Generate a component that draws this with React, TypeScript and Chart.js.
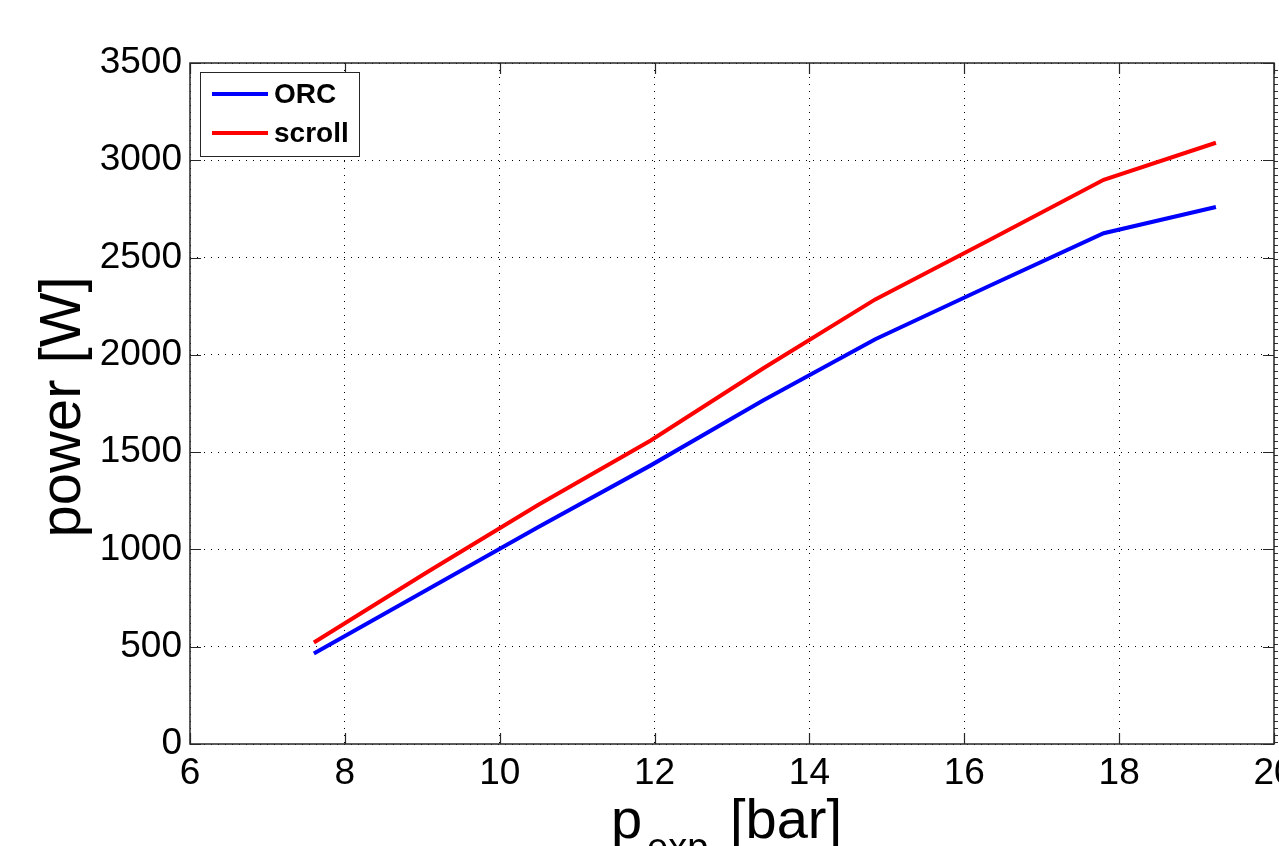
import React, { useEffect, useRef } from "react";
import { Chart, registerables } from "chart.js";

Chart.register(...registerables);

// ---- data ----
const pressure = [7.6, 9.05, 10.5, 11.95, 13.4, 14.85, 16.3, 17.8, 19.25];
const orcPower = [465, 790, 1115, 1432, 1765, 2080, 2350, 2625, 2760];
const scrollPower = [522, 880, 1230, 1560, 1930, 2285, 2585, 2900, 3090];
const xTickValues = [6, 8, 10, 12, 14, 16, 18, 20];
const yTickValues = [0, 500, 1000, 1500, 2000, 2500, 3000, 3500];
const seriesLabels = ["ORC", "scroll"];
const seriesColors = ["#0000ff", "#ff0000"];
const xTitleMain = "p";
const xTitleSub = "exp";
const xTitleUnit = "[bar]";
const yTitle = "power [W]";

const FONT = "'Liberation Sans', Arial, Helvetica, sans-serif";

const matlabPlugin = {
  id: "matlabDecor",
  afterDatasetsDraw(chart: any) {
    const { ctx, chartArea } = chart;
    const { left, right, top, bottom } = chartArea;
    const xs = chart.scales.x;
    const ys = chart.scales.y;
    ctx.save();
    // frame
    ctx.strokeStyle = "#262626";
    ctx.lineWidth = 1.5;
    ctx.strokeRect(left, top, right - left, bottom - top);
    // inside ticks
    const tl = 11;
    ctx.lineWidth = 1.2;
    ctx.beginPath();
    xTickValues.forEach((v) => {
      const px = Math.round(xs.getPixelForValue(v)) + 0.5;
      ctx.moveTo(px, bottom);
      ctx.lineTo(px, bottom - tl);
      ctx.moveTo(px, top);
      ctx.lineTo(px, top + tl);
    });
    yTickValues.forEach((v) => {
      const py = Math.round(ys.getPixelForValue(v)) + 0.5;
      ctx.moveTo(left, py);
      ctx.lineTo(left + tl, py);
      ctx.moveTo(right, py);
      ctx.lineTo(right - tl, py);
    });
    ctx.stroke();
    // little marks just outside the right edge (cut-off neighbour)
    ctx.fillStyle = "#333";
    for (let y = top + 7; y < bottom; y += 7) {
      ctx.fillRect(right + 1, Math.round(y), 3, 1);
    }
    ctx.restore();
  },
  afterDraw(chart: any) {
    const { ctx } = chart;
    ctx.save();
    // legend
    const bx = 200.5, by = 72.5, bw = 159, bh = 84;
    ctx.fillStyle = "#ffffff";
    ctx.fillRect(bx, by, bw, bh);
    ctx.strokeStyle = "#262626";
    ctx.lineWidth = 1;
    ctx.strokeRect(bx, by, bw, bh);
    const rows = [94, 133];
    chart.data.datasets.forEach((ds: any, i: number) => {
      ctx.strokeStyle = ds.borderColor;
      ctx.lineWidth = 4;
      ctx.beginPath();
      ctx.moveTo(212, rows[i]);
      ctx.lineTo(268, rows[i]);
      ctx.stroke();
      ctx.fillStyle = "#000";
      ctx.font = `bold 28px ${FONT}`;
      ctx.textBaseline = "middle";
      ctx.textAlign = "left";
      ctx.fillText(ds.label, 274, rows[i] + 1);
    });
    // y title
    ctx.save();
    ctx.translate(80, 407);
    ctx.rotate(-Math.PI / 2);
    ctx.font = `58px ${FONT}`;
    ctx.textAlign = "center";
    ctx.textBaseline = "alphabetic";
    ctx.fillStyle = "#000";
    ctx.fillText(yTitle, 0, 0);
    ctx.restore();
    // x title
    ctx.fillStyle = "#000";
    ctx.textAlign = "left";
    ctx.textBaseline = "alphabetic";
    ctx.font = `56px ${FONT}`;
    ctx.fillText(xTitleMain, 611, 838);
    ctx.font = `38px ${FONT}`;
    ctx.fillText(xTitleSub, 647, 860);
    ctx.font = `56px ${FONT}`;
    ctx.fillText(xTitleUnit, 730, 838);
    ctx.restore();
  },
};

export default function App() {
  const ref = useRef<HTMLCanvasElement | null>(null);
  useEffect(() => {
    if (!ref.current) return;
    const chart = new Chart(ref.current, {
      type: "line",
      data: {
        datasets: [
          {
            label: seriesLabels[0],
            data: pressure.map((p, i) => ({ x: p, y: orcPower[i] })),
            borderColor: seriesColors[0],
            borderWidth: 4,
            pointRadius: 0,
            fill: false,
            tension: 0,
          },
          {
            label: seriesLabels[1],
            data: pressure.map((p, i) => ({ x: p, y: scrollPower[i] })),
            borderColor: seriesColors[1],
            borderWidth: 4,
            pointRadius: 0,
            fill: false,
            tension: 0,
          },
        ],
      },
      options: {
        animation: false,
        responsive: false,
        devicePixelRatio: 1,
        layout: { padding: { top: 63, right: 46, left: 0, bottom: 0 } },
        plugins: {
          legend: { display: false },
          tooltip: { enabled: false },
        },
        scales: {
          x: {
            type: "linear",
            min: 6,
            max: 20,
            afterBuildTicks: (s: any) => {
              s.ticks = xTickValues.map((v) => ({ value: v }));
            },
            afterFit: (s: any) => {
              s.height = 156;
            },
            ticks: {
              color: "#000",
              font: { family: FONT, size: 37 },
              padding: 8,
              maxRotation: 0,
              autoSkip: false,
              callback: (v: any) => String(v),
            },
            grid: { color: "#000", lineWidth: 1, drawTicks: false },
            border: { display: false, dash: [1, 6] },
          },
          y: {
            type: "linear",
            min: 0,
            max: 3500,
            afterBuildTicks: (s: any) => {
              s.ticks = yTickValues.map((v) => ({ value: v }));
            },
            afterFit: (s: any) => {
              s.width = 190;
            },
            ticks: {
              color: "#000",
              font: { family: FONT, size: 37 },
              padding: 8,
              autoSkip: false,
              callback: (v: any) => String(v),
            },
            grid: { color: "#000", lineWidth: 1, drawTicks: false },
            border: { display: false, dash: [1, 6] },
          },
        },
      },
      plugins: [matlabPlugin],
    } as any);
    return () => chart.destroy();
  }, []);
  return (
    <div
      style={{
        position: "absolute",
        left: 0,
        top: 0,
        width: 1279,
        height: 846,
        overflow: "hidden",
        background: "#fff",
      }}
    >
      <canvas ref={ref} width={1320} height={900} style={{ display: "block" }} />
    </div>
  );
}
